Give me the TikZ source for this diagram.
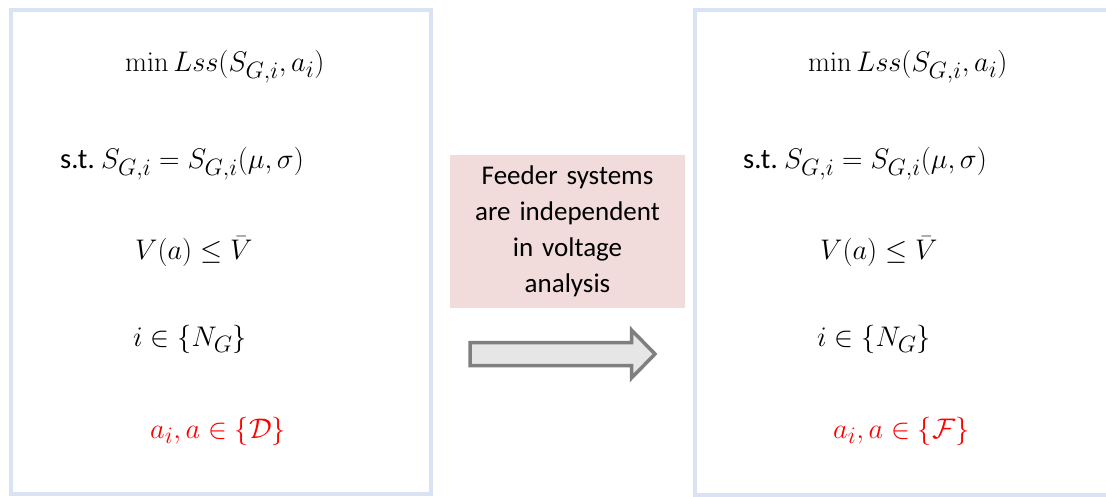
\documentclass[tikz,border=0pt]{standalone}
\usepackage[no-math]{fontspec}
\setmainfont{Carlito}
\definecolor{framebl}{HTML}{DAE3F3}
\definecolor{pinkbg}{HTML}{F2DCDB}
\definecolor{arrfill}{HTML}{E6E6E6}
\definecolor{arrdraw}{HTML}{7F7F7F}
\definecolor{redtxt}{HTML}{FF0000}
\newcommand{\stlabel}{{\fontsize{25}{30}\selectfont s.t.}\ }
\tikzset{
  panel/.style={draw=framebl, line width=3.5pt, inner sep=0pt},
  eq/.style={anchor=base west, inner sep=0pt, scale=1.14, font=\fontsize{24.88}{30}\selectfont},
  redeq/.style={eq, text=redtxt},
  notebox/.style={fill=pinkbg, text width=235pt, minimum width=235pt, minimum height=153pt, align=center, inner sep=0pt, font=\fontsize{27}{36}\selectfont},
  bigarrow/.style={draw=arrdraw, fill=arrfill, line width=3.5pt, line join=miter}
}
\begin{document}
\begin{tikzpicture}[x=1pt,y=-1pt]
\useasboundingbox (0,0) rectangle (1106,497);
\fill[white] (0,0) rectangle (1106,497);
% panels
\node[panel, minimum width=420pt, minimum height=484pt] (lp) at (221,252) {};
\node[panel, minimum width=430pt, minimum height=485pt] (rp) at (910,252.5) {};
% left equations
\node[eq] (l1) at (125,72) {$\min Lss(S_{G,i},a_i)$};
\node[eq] (l2) at (60,169) {\stlabel$S_{G,i}=S_{G,i}(\mu,\sigma)$};
\node[eq] (l3) at (135,260) {$V(a)\le\bar{V}$};
\node[eq] (l4) at (133,346) {$i\in\{N_G\}$};
\node[redeq] (l5) at (150,438) {$a_i,a\in\{\mathcal{D}\}$};
% right equations
\node[eq] (r1) at (808,72) {$\min Lss(S_{G,i},a_i)$};
\node[eq] (r2) at (743,169) {\stlabel$S_{G,i}=S_{G,i}(\mu,\sigma)$};
\node[eq] (r3) at (820,260) {$V(a)\le\bar{V}$};
\node[eq] (r4) at (817,346) {$i\in\{N_G\}$};
\node[redeq] (r5) at (833,438) {$a_i,a\in\{\mathcal{F}\}$};
% middle
\node[notebox] (note) at (567.5,231.5) {Feeder systems\\are independent\\in voltage\\analysis};
\draw[bigarrow] (470,342.5) -- (631.5,342.5) -- (631.5,330) -- (655,354)
  -- (631.5,378) -- (631.5,365.5) -- (470,365.5) -- cycle;
\end{tikzpicture}
\end{document}
